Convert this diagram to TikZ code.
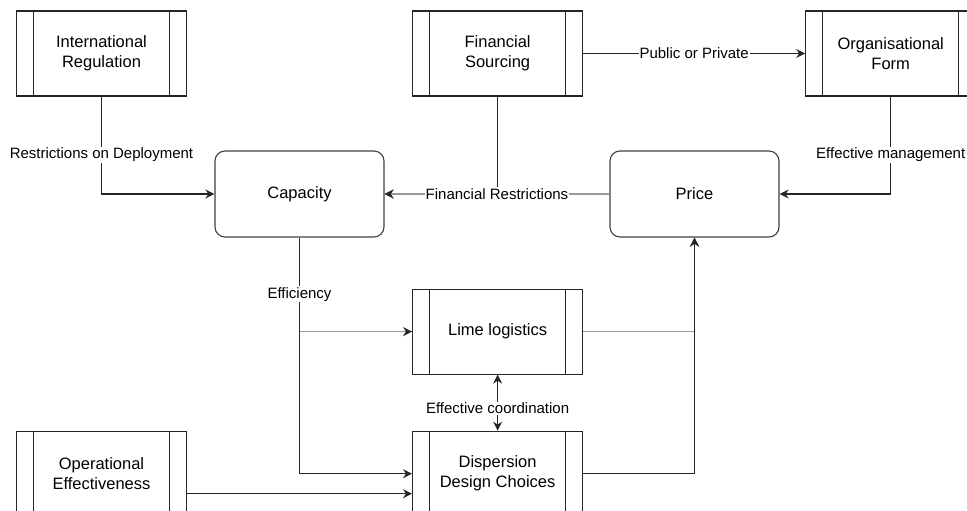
\documentclass[tikz,border=0pt]{standalone}
\usepackage{fontspec}
\setmainfont{Liberation Sans}
\usetikzlibrary{positioning,arrows.meta}

\begin{document}
\begin{tikzpicture}[x=1pt,y=-1pt,>={Stealth[length=9pt,width=9pt]},
	procnode/.style={rectangle, draw=black!85, fill=white, line width=1.1pt, minimum width=170pt, minimum height=85pt, align=center, font=\fontsize{16.5}{20}\selectfont,
		path picture={\draw[black!85,line width=1.1pt]
			([xshift=17pt]path picture bounding box.north west) -- ([xshift=17pt]path picture bounding box.south west)
			([xshift=-17pt]path picture bounding box.north east) -- ([xshift=-17pt]path picture bounding box.south east);}},
	roundnode/.style={rectangle, rounded corners=10pt, draw=black!75, fill=white, line width=1.1pt, minimum width=169pt, minimum height=86pt, font=\fontsize{16.5}{20}\selectfont},
	lbl/.style={fill=white, inner sep=1pt, font=\fontsize{15}{17}\selectfont},
	conn/.style={draw=black!85, line width=1.2pt},
	faint/.style={draw=black!40, line width=1.2pt, >={Stealth[length=9pt,width=9pt,color=black!85]}}]
	\useasboundingbox (0,0) rectangle (967,511);
	\clip (0,0) rectangle (967,511);
	\node[procnode] (intreg) at (101.5,53.5) {International\\Regulation};
	\node[procnode] (finsrc) [right=225pt of intreg] {Financial\\Sourcing};
	\node[procnode] (orgform) [right=222pt of finsrc] {Organisational\\Form};
	\node[roundnode] (capacity) at (299.5,194) {Capacity};
	\node[roundnode] (price) at (694.5,194) {Price};
	\node[procnode] (lime) [below=192pt of finsrc] {Lime logistics};
	\node[procnode] (disp) [below=56pt of lime] {Dispersion\\Design Choices};
	\node[procnode] (opeff) at (intreg |- disp) {Operational\\Effectiveness};
	% top row into capacity and price
	\draw[conn,->] (intreg.south) |- node[lbl,pos=0.3] {Restrictions on Deployment} (capacity.west);
	\draw[conn,->] (finsrc.east) -- node[lbl] {Public or Private} (orgform.west);
	\draw[conn,->] (orgform.south) |- node[lbl,pos=0.3] {Effective management} (price.east);
	\draw[conn,->] (finsrc.south) |- (capacity.east);
	\draw[faint,->] (price.west) -- node[lbl] {Financial Restrictions} (capacity.east);
	% lower part
	\draw[faint,->] (capacity.south) |- (lime.west);
	\draw[conn,->] (capacity.south) |- node[lbl,pos=0.12] {Efficiency} (disp.west);
	\draw[conn,->] ([yshift=-20pt]opeff.east) -- ([yshift=-20pt]disp.west);
	\draw[faint,->] (lime.east) -| (price.south);
	\draw[conn,->] (disp.east) -| (price.south);
	\draw[conn,<->] (lime.south) -- node[lbl,pos=0.6] {Effective coordination} (disp.north);
\end{tikzpicture}
\end{document}
